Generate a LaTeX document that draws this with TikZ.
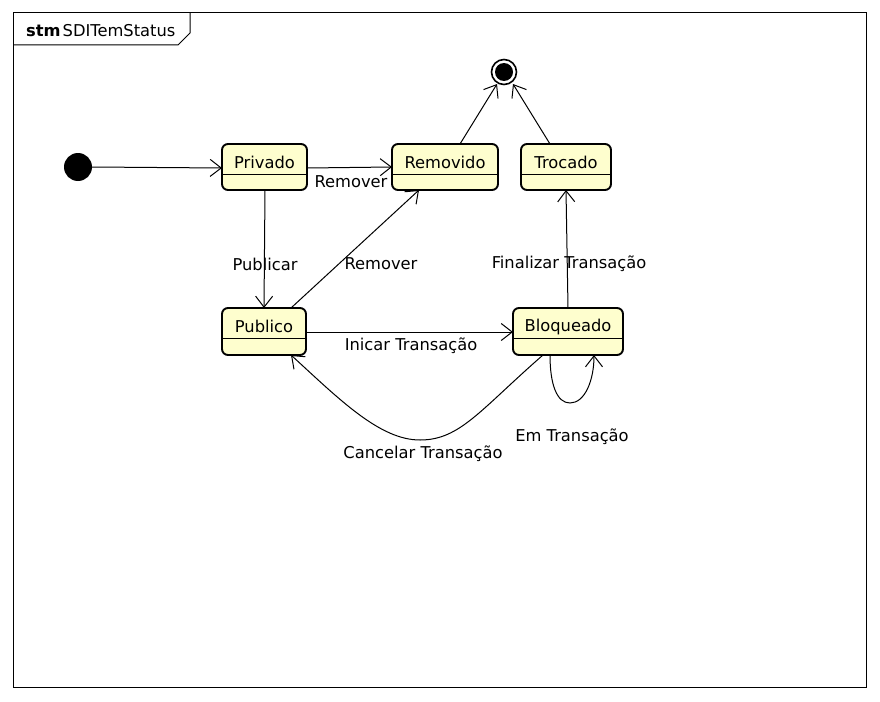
\documentclass[tikz,border=0pt]{standalone}
\usepackage{fontspec}
\setmainfont{DejaVu Sans}
\usetikzlibrary{arrows.meta}
\definecolor{stfill}{HTML}{FEFECE}
\tikzset{
  state/.style={draw=black, line width=1.9pt, fill=stfill, rounded corners=6pt},
  lbl/.style={font=\fontsize{16.3}{19}\selectfont, inner sep=0pt, anchor=center},
  tr/.style={draw=black, line width=1pt, -{Straight Barb[length=11pt,width=17pt,line width=1pt]}},
}
\begin{document}
\begin{tikzpicture}[x=1pt,y=-1pt]
\useasboundingbox (0,0) rectangle (880,701);
% frame
\draw[line width=1pt] (13,13) rectangle (866,687);
\draw[line width=1pt] (13,45) -- (178,45) -- (190,33) -- (190,13);
\node[lbl, anchor=west] (title) at (26,31) {\textbf{stm}\hspace{2pt}SDITemStatus};

% initial
\fill (78,167) circle (14);
\coordinate (init) at (78,167);
% final
\draw[line width=1.6pt, fill=white] (504,72) circle (12.5);
\fill (504,72) circle (9);
\coordinate (fin) at (504,72);

% states
\newcommand{\stbox}[6]{% name, x1,y1,x2,y2, text
  \draw[state] (#2,#3) rectangle (#4,#5);
  \coordinate (#1nw) at (#2,#3);
  \coordinate (#1se) at (#4,#5);
  \draw[line width=1pt] (#2,{#3+30}) -- (#4,{#3+30});
  \node[lbl] (#1) at ({(#2+#4)/2},{#3+18.5}) {#6};
}
\stbox{priv}{222}{144}{307}{190}{Privado}
\stbox{rem}{392}{144}{498}{190}{Removido}
\stbox{troc}{521}{144}{611}{190}{Trocado}
\stbox{pub}{222}{308}{306}{355}{Publico}
\stbox{blo}{513}{308}{623}{355}{Bloqueado}

% transitions
\draw[tr] (92,167) -- (222,168);
\draw[tr] (307,168) -- (392,167);
\node[lbl] (l1) at (351,182) {Remover};
\draw[tr] (265,190) -- (264,308);
\node[lbl] (l2) at (265,264) {Publicar};
\draw[tr] (291,308) -- (419,190);
\node[lbl] (l3) at (381,264) {Remover};
\draw[tr] (460,144) -- (497,84);
\draw[tr] (550,144) -- (513,84);
\draw[tr] (568,308) -- (566,190);
\node[lbl] (l4) at (569,264) {Finalizar Transação};
\draw[tr] (306,332) -- (513,332);
\node[lbl] (l5) at (411,346) {Inicar Transação};
\draw[tr] (543,355) .. controls (480,410) and (460,440) .. (420,440) .. controls (380,440) and (340,400) .. (291,355);
\node[lbl] (l6) at (423,454) {Cancelar Transação};
\draw[tr] (550,355) .. controls (550,385) and (557,403) .. (570,403) .. controls (585,403) and (594,380) .. (594,355);
\node[lbl] (l7) at (572,437) {Em Transação};
\end{tikzpicture}
\end{document}
